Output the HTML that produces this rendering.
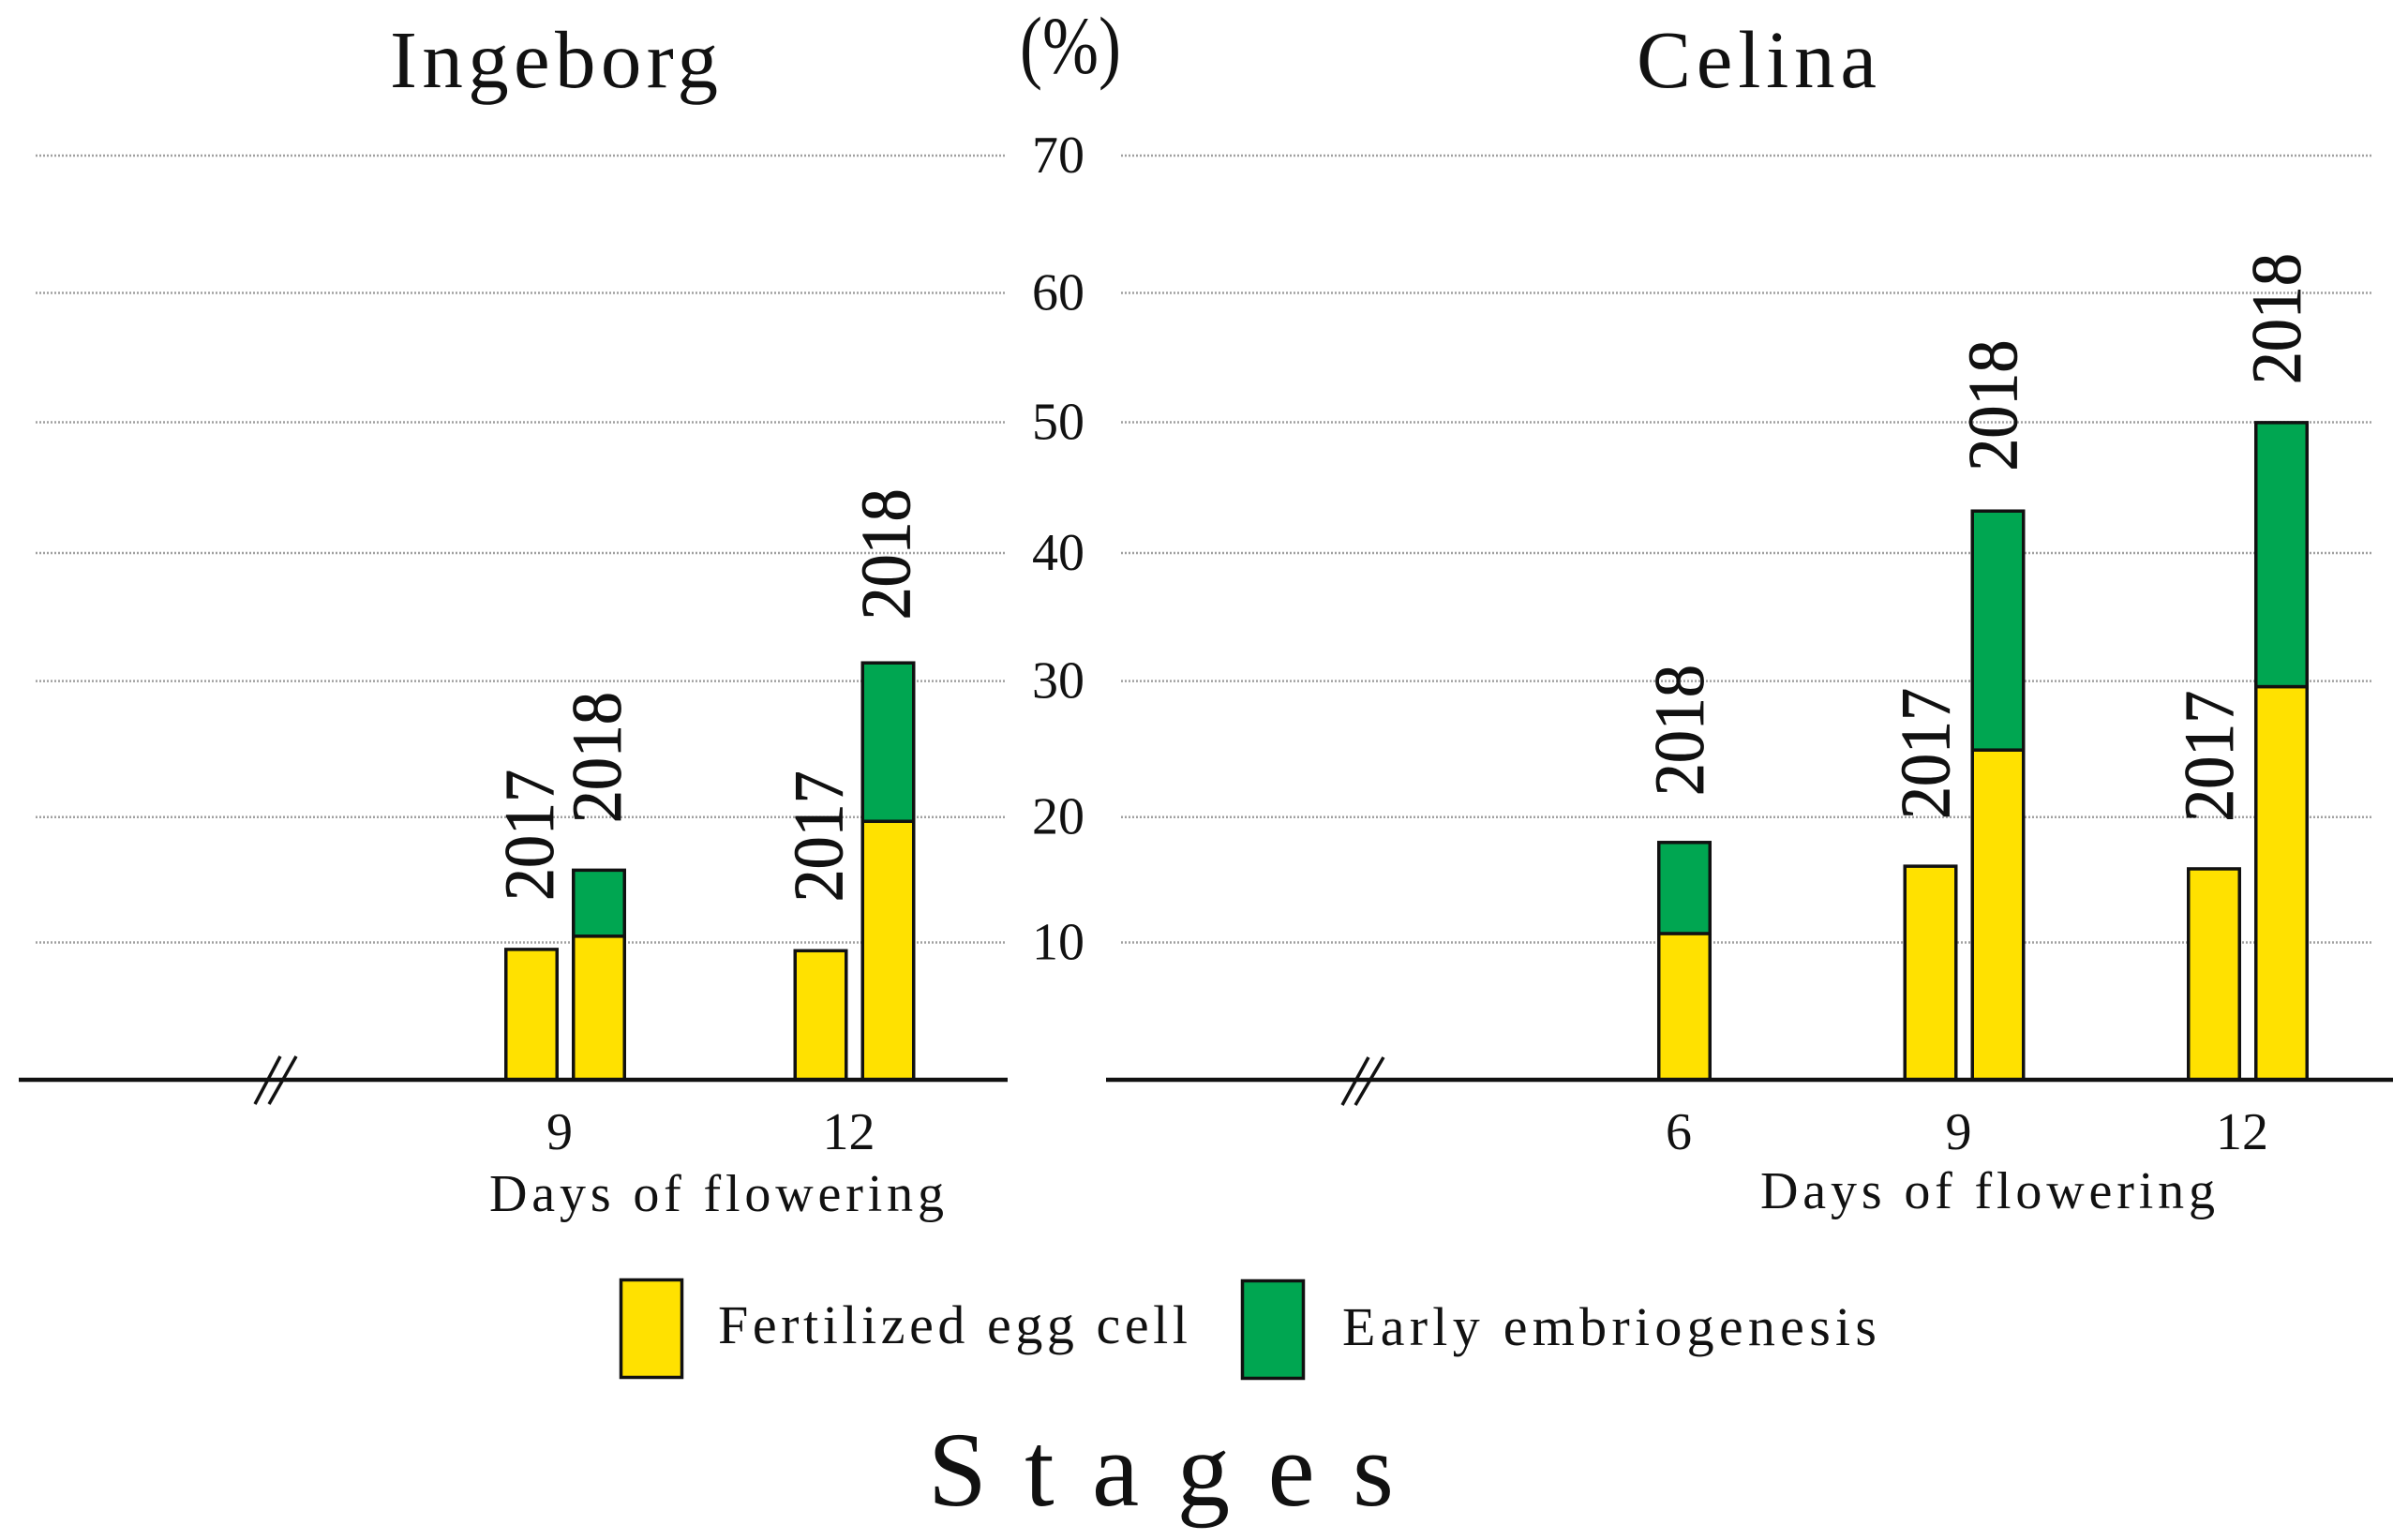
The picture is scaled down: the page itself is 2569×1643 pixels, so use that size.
<!DOCTYPE html>
<html lang="en">
<head>
<meta charset="utf-8">
<title>Stages of embryo development in Ingeborg and Celina</title>
<style>
html,body{margin:0;padding:0;background:#fff;}
svg{display:block;}
text{font-family:"Liberation Serif",serif;fill:#111;}
</style>
</head>
<body>
<svg id="chart" xmlns="http://www.w3.org/2000/svg" width="2569" height="1643" viewBox="0 0 2569 1643">
  <rect x="0" y="0" width="2569" height="1643" fill="#fff"/>
  <text x="416" y="93" font-size="87" textLength="350" lengthAdjust="spacing">Ingeborg</text>
  <text x="1746" y="93" font-size="87" textLength="256" lengthAdjust="spacing">Celina</text>
  <text x="1088" y="78" font-size="87" textLength="108" lengthAdjust="spacingAndGlyphs">(%)</text>
  <g id="grid"></g>
  <g id="ticks"></g>
  <g id="bars"></g>
  <g id="axes">
    <line x1="20" x2="1075" y1="1152" y2="1152" stroke="#111" stroke-width="4.5"/>
    <line x1="1180" x2="2553" y1="1152" y2="1152" stroke="#111" stroke-width="4.5"/>
    <g stroke="#111" stroke-width="3.5">
      <line x1="272" y1="1178" x2="299" y2="1127"/>
      <line x1="287" y1="1178" x2="316" y2="1127"/>
    </g>
    <g stroke="#111" stroke-width="3.5">
      <line x1="1432" y1="1179" x2="1460" y2="1128"/>
      <line x1="1446" y1="1179" x2="1476" y2="1128"/>
    </g>
  </g>
  <g id="dayLabels"></g>
  <text x="522" y="1292" font-size="56" textLength="485" lengthAdjust="spacing">Days of flowering</text>
  <text x="1878" y="1289" font-size="56" textLength="485" lengthAdjust="spacing">Days of flowering</text>
  <g>
    <rect x="662.5" y="1365.5" width="65" height="104" fill="#FFE100" stroke="#111" stroke-width="3.5"/>
    <text x="766" y="1433" font-size="58" textLength="501" lengthAdjust="spacing">Fertilized egg cell</text>
    <rect x="1325.5" y="1366.5" width="65" height="104" fill="#00A651" stroke="#111" stroke-width="3.5"/>
    <text x="1432" y="1435" font-size="58" textLength="570" lengthAdjust="spacing">Early embriogenesis</text>
  </g>
  <text x="990" y="1606" font-size="113" textLength="497" lengthAdjust="spacing">Stages</text>
</svg>
<script>
// Y axis: tick labels and the levels at which the dotted gridlines were drawn
const yTickLabels = [10, 20, 30, 40, 50, 60, 70];
const gridLevels = [10.4, 19.9, 30.2, 39.9, 49.8, 59.6, 70];

// Ingeborg panel
const ingeborgDays = [9, 12];
const ingeborgBarDays = [9, 9, 12, 12];
const ingeborgBarYears = [2017, 2018, 2017, 2018];
const ingeborgFertilized = [10.0, 11.0, 9.9, 19.7];
const ingeborgEarly = [0, 5.0, 0, 12.0];

// Celina panel
const celinaDays = [6, 9, 12];
const celinaBarDays = [6, 9, 9, 12, 12];
const celinaBarYears = [2018, 2017, 2018, 2017, 2018];
const celinaFertilized = [11.2, 16.3, 25.1, 16.1, 29.9];
const celinaEarly = [6.9, 0, 18.1, 0, 20.0];

const SVG_NS = 'http://www.w3.org/2000/svg';
const YELLOW = '#FFE100';
const GREEN = '#00A651';
const BASE_Y = 1152;
const PX_PER_UNIT = 14.086;
const BAR_W = 58;
const BAR_GAP = 14;
const STROKE = 3.5;

function yScale(v) {
  return BASE_Y - v * PX_PER_UNIT;
}
function ingeborgX(day) {
  return day === 9 ? 603 : 911.5;
}
function celinaX(day) {
  if (day === 6) return 1797;
  return day === 9 ? 2095.5 : 2398;
}
function make(tag, parent, attrs) {
  const el = document.createElementNS(SVG_NS, tag);
  Object.keys(attrs).forEach(function (k) { el.setAttribute(k, attrs[k]); });
  parent.appendChild(el);
  return el;
}

const gridGroup = document.getElementById('grid');
const tickGroup = document.getElementById('ticks');
const barGroup = document.getElementById('bars');
const dayGroup = document.getElementById('dayLabels');

gridLevels.forEach(function (level, i) {
  const y = yScale(level);
  const left = make('line', gridGroup, {x1: 38, x2: 1073, y1: y, y2: y, stroke: '#a0a0a0', 'stroke-width': 2.5, 'stroke-dasharray': '2 2'});
  
  
  const right = make('line', gridGroup, {x1: 1196, x2: 2530, y1: y, y2: y, stroke: '#a0a0a0', 'stroke-width': 2.5, 'stroke-dasharray': '2 2'});
  
  
  const label = make('text', tickGroup, {x: 1129, y: y + 18, 'font-size': 56, 'text-anchor': 'middle'});
  
  
  label.textContent = yTickLabels[i];
});

function drawPanel(panel, xScale, labelInset, days, barDays, barYears, fertilized, early) {
  days.forEach(function (day) {
    const t = make('text', dayGroup, {x: xScale(day) - 6, y: 1226, 'font-size': 56, 'text-anchor': 'middle'});
    
    
    t.textContent = day;
  });
  barDays.forEach(function (day, i) {
    const sameDay = [];
    barDays.forEach(function (d, j) { if (d === day) sameDay.push(j); });
    const groupWidth = sameDay.length * BAR_W + (sameDay.length - 1) * BAR_GAP;
    const x = xScale(day) - groupWidth / 2 + sameDay.indexOf(i) * (BAR_W + BAR_GAP);
    const yFert = yScale(fertilized[i]);
    const yTop = yScale(fertilized[i] + early[i]);

    const fert = make('rect', barGroup, {x: x + STROKE / 2, y: yFert + STROKE / 2, width: BAR_W - STROKE, height: BASE_Y - yFert - STROKE / 2, fill: YELLOW, stroke: '#111', 'stroke-width': STROKE});
    
    

    if (early[i] > 0) {
      const green = make('rect', barGroup, {x: x + STROKE / 2, y: yTop + STROKE / 2, width: BAR_W - STROKE, height: yFert - yTop, fill: GREEN, stroke: '#111', 'stroke-width': STROKE});
      
      
    }

    const total = fertilized[i] + early[i];
    const lx = x + labelInset;
    const ly = yTop - (53 - 0.28 * total);
    const year = make('text', barGroup, {x: lx, y: ly, 'font-size': 75, stroke: '#111', 'stroke-width': 0.8, textLength: 140, lengthAdjust: 'spacingAndGlyphs', transform: 'rotate(-90 ' + lx + ' ' + ly + ')'});
    
    
    year.textContent = barYears[i];
  });
}

drawPanel('ingeborg', ingeborgX, 52, ingeborgDays, ingeborgBarDays, ingeborgBarYears, ingeborgFertilized, ingeborgEarly);
drawPanel('celina', celinaX, 49, celinaDays, celinaBarDays, celinaBarYears, celinaFertilized, celinaEarly);
</script>
</body>
</html>
